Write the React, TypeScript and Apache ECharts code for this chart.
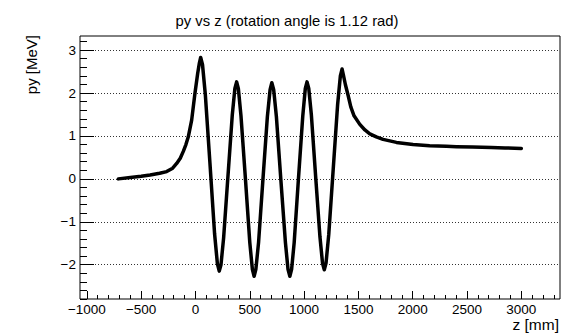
import React, { useEffect, useRef } from "react";
import * as echarts from "echarts";

// ---- data ----
const zValues = [
  -710, -600, -500, -418, -330, -265, -210, -173, -140, -112, -88, -66, -35, -5, 20, 36, 48,
  65, 91, 134, 176, 202, 219,
  235, 259, 299, 339, 363, 379,
  395, 419, 460, 500, 524, 540,
  556, 581, 621, 662, 687, 703,
  720, 745, 786, 828, 852, 869,
  885, 909, 948, 988, 1011, 1027,
  1043, 1067, 1106, 1146, 1170, 1186,
  1202, 1227, 1268, 1309, 1334, 1350,
  1362, 1380, 1405, 1430, 1460, 1513, 1560, 1605, 1665, 1727, 1850, 2003, 2156, 2310, 2402,
  2550, 2724, 2850, 3000,
];
const pyValues = [
  0.0, 0.03, 0.06, 0.09, 0.13, 0.17, 0.25, 0.36, 0.48, 0.64, 0.8, 0.98, 1.37, 1.99, 2.45, 2.7, 2.83,
  2.66, 1.96, 0.34, -1.28, -1.98, -2.15,
  -2.0, -1.38, 0.06, 1.49, 2.11, 2.26,
  2.1, 1.47, 0.0, -1.48, -2.11, -2.27,
  -2.11, -1.48, -0.02, 1.45, 2.08, 2.24,
  2.08, 1.45, -0.02, -1.48, -2.11, -2.27,
  -2.11, -1.48, 0.0, 1.47, 2.1, 2.26,
  2.11, 1.49, 0.07, -1.35, -1.97, -2.12,
  -1.96, -1.3, 0.22, 1.74, 2.4, 2.56,
  2.42, 2.2, 1.95, 1.68, 1.47, 1.27, 1.14, 1.05, 0.98, 0.92, 0.85, 0.8, 0.77, 0.76, 0.75,
  0.74, 0.73, 0.72, 0.71,
];

const xMajorTicks = [-1000, -500, 0, 500, 1000, 1500, 2000, 2500, 3000];
const yMajorTicks = [-2, -1, 0, 1, 2, 3];
const xMinorStep = 100;
const yMinorStep = 0.2;

const xRange = [-1063, 3356];
const yRange = [-2.8, 3.33];

const titleText = "py vs z (rotation angle is 1.12 rad)";
const xTitle = "z [mm]";
const yTitle = "py [MeV]";

function minorTicks(min: number, max: number, step: number): number[] {
  const out: number[] = [];
  const start = Math.ceil(min / step - 1e-9);
  const end = Math.floor(max / step + 1e-9);
  for (let i = start; i <= end; i++) out.push(Math.round(i * step * 1000) / 1000);
  return out;
}

const FONT = "'Liberation Sans', Arial, Helvetica, sans-serif";
const fmtMinus = (v: number) => String(v).replace("-", "\u2212");

export default function App() {
  const ref = useRef<HTMLDivElement>(null);
  useEffect(() => {
    if (!ref.current) return;
    const chart = echarts.init(ref.current, undefined, { renderer: "svg" });
    const data = zValues.map((z, i) => [z, pyValues[i]]);
    const tickLine = { color: "#000", width: 1 };
    chart.setOption({
      animation: false,
      backgroundColor: "#fff",
      title: {
        text: titleText,
        left: 282,
        top: 8,
        textAlign: "center",
        textStyle: { fontFamily: FONT, fontSize: 14.8, fontWeight: "normal", color: "#000" },
      },
      grid: {
        left: 80,
        top: 36,
        width: 480,
        height: 263,
        show: true,
        borderColor: "#000",
        borderWidth: 1,
        backgroundColor: "transparent",
      },
      xAxis: [
        {
          type: "value",
          min: xRange[0],
          max: xRange[1],
          position: "bottom",
          axisLine: { show: false, onZero: false },
          axisTick: { show: true, inside: true, length: 8, customValues: xMajorTicks, lineStyle: tickLine },
          axisLabel: {
            show: true,
            customValues: xMajorTicks,
            margin: 3,
            formatter: fmtMinus,
            fontFamily: FONT,
            fontSize: 13.5,
            color: "#000",
          },
          splitLine: { show: false },
        },
        {
          type: "value",
          min: xRange[0],
          max: xRange[1],
          position: "bottom",
          axisLine: { show: false, onZero: false },
          axisTick: {
            show: true,
            inside: true,
            length: 4,
            customValues: minorTicks(xRange[0], xRange[1], xMinorStep),
            lineStyle: tickLine,
          },
          axisLabel: { show: false },
          splitLine: { show: false },
        },
      ],
      yAxis: [
        {
          type: "value",
          min: yRange[0],
          max: yRange[1],
          position: "left",
          axisLine: { show: false, onZero: false },
          axisTick: { show: true, inside: true, length: 14, customValues: yMajorTicks, lineStyle: tickLine },
          axisLabel: {
            show: true,
            customValues: yMajorTicks,
            margin: 4,
            formatter: fmtMinus,
            fontFamily: FONT,
            fontSize: 13.5,
            color: "#000",
          },
          splitLine: { show: true, lineStyle: { color: "#333", width: 1, type: [1, 2] } },
        },
        {
          type: "value",
          min: yRange[0],
          max: yRange[1],
          position: "left",
          axisLine: { show: false, onZero: false },
          axisTick: {
            show: true,
            inside: true,
            length: 7,
            customValues: minorTicks(yRange[0], yRange[1], yMinorStep),
            lineStyle: tickLine,
          },
          axisLabel: { show: false },
          splitLine: { show: false },
        },
      ],
      graphic: [
        {
          type: "text",
          x: 31,
          y: 35,
          rotation: Math.PI / 2,
          style: { text: yTitle, align: "right", verticalAlign: "middle", fontFamily: FONT, fontSize: 15, fill: "#000" },
        },
        {
          type: "text",
          x: 559,
          y: 324,
          style: { text: xTitle, align: "right", verticalAlign: "middle", fontFamily: FONT, fontSize: 15.5, fill: "#000" },
        },
      ],
      series: [
        {
          type: "line",
          xAxisIndex: 0,
          yAxisIndex: 0,
          data,
          showSymbol: false,
          symbol: "none",
          smooth: false,
          lineStyle: { color: "#000", width: 3.5, join: "round", cap: "round" },
          z: 3,
        },
      ],
    });
    return () => chart.dispose();
  }, []);
  return <div ref={ref} style={{ position: "fixed", left: 0, top: 0, width: 568, height: 334 }} />;
}
